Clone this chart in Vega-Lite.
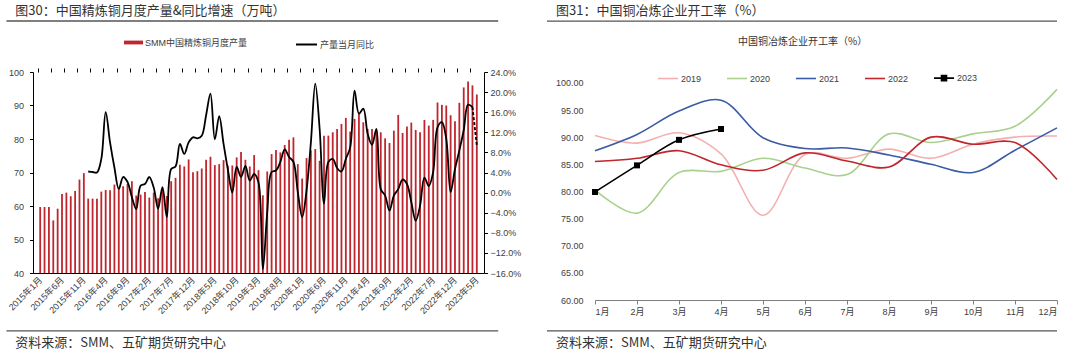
{
  "$schema": "https://vega.github.io/schema/vega-lite/v6.json",
  "background": "white",
  "padding": {"left": 5, "top": 4, "right": 0, "bottom": 0},
  "spacing": 25,
  "config": {
    "view": {"stroke": null},
    "font": "Liberation Sans, Noto Sans CJK SC",
    "axis": {"grid": false, "labelOverlap": false, "labelFont": "Liberation Sans, Noto Sans CJK SC", "labelFontSize": 9, "labelColor": "#404040"},
    "legend": {"labelFont": "Liberation Sans, Noto Sans CJK SC", "labelFontSize": 9, "labelColor": "#404040"}
  },
  "hconcat": [
    {
      "width": 451,
      "height": 201,
      "data": {"values": [
        {"i":0,"p":59.7},{"i":1,"p":59.7},{"i":2,"p":59.7},{"i":3,"p":55.7},{"i":4,"p":59.2},{"i":5,"p":63.6},{"i":6,"p":64.0},{"i":7,"p":62.9},{"i":8,"p":64.5},{"i":9,"p":67.9},{"i":10,"p":69.8},
        {"i":11,"p":62.2,"y":4.2},{"i":12,"p":62.2,"y":4.1},{"i":13,"p":62.2,"y":4.0},{"i":14,"p":64.3,"y":6.7},{"i":15,"p":64.8,"y":16.0},{"i":16,"p":64.7,"y":10.0},{"i":17,"p":66.4,"y":5.0},{"i":18,"p":64.9,"y":0.7},{"i":19,"p":65.9,"y":3.1},{"i":20,"p":66.6,"y":2.1},
        {"i":21,"p":67.4,"y":-0.9},{"i":22,"p":63.1,"y":-3.3},{"i":23,"p":63.4,"y":1.4},{"i":24,"p":64.2,"y":1.7},{"i":25,"p":62.5,"y":3.1},{"i":26,"p":64.0,"y":1.0},{"i":27,"p":62.3,"y":-3.2},{"i":28,"p":65.0,"y":1.1},{"i":29,"p":63.0,"y":-4.9},{"i":30,"p":67.4,"y":4.7},
        {"i":31,"p":68.4,"y":5.2},{"i":32,"p":72.3,"y":9.7},{"i":33,"p":71.8,"y":7.7},{"i":34,"p":73.9,"y":10.0},{"i":35,"p":70.1,"y":11.0},{"i":36,"p":70.4,"y":10.8},{"i":37,"p":71.2,"y":11.3},{"i":38,"p":73.8,"y":15.4},{"i":39,"p":74.7,"y":19.7},{"i":40,"p":72.2,"y":10.6},
        {"i":41,"p":72.5,"y":15.2},{"i":42,"p":73.7,"y":9.7},{"i":43,"p":72.0,"y":4.5},{"i":44,"p":72.1,"y":0.0},{"i":45,"p":74.5,"y":5.1},{"i":46,"p":76.1,"y":3.1},{"i":47,"p":73.8,"y":5.3},{"i":48,"p":71.8,"y":2.4},{"i":49,"p":75.2,"y":3.7},{"i":50,"p":70.7,"y":2.0},
        {"i":51,"p":63.2,"y":-15.2},{"i":52,"p":70.3,"y":-3.9},{"i":53,"p":75.5,"y":4.1},{"i":54,"p":76.7,"y":4.4},{"i":55,"p":76.0,"y":6.1},{"i":56,"p":78.2,"y":8.6},{"i":57,"p":79.8,"y":7.1},{"i":58,"p":80.5,"y":6.1},{"i":59,"p":72.5,"y":0.1},{"i":60,"p":68.2,"y":-4.9},
        {"i":61,"p":74.3,"y":0.4},{"i":62,"p":76.6,"y":10.0},{"i":63,"p":77.0,"y":21.7},{"i":64,"p":73.5,"y":12.7},{"i":65,"p":81.0,"y":-2.2},{"i":66,"p":81.0,"y":6.1},{"i":67,"p":82.0,"y":6.7},{"i":68,"p":83.0,"y":4.9},{"i":69,"p":84.5,"y":4.2},{"i":70,"p":86.3,"y":6.7},
        {"i":71,"p":82.2,"y":9.0},{"i":72,"p":86.0,"y":20.3},{"i":73,"p":87.5,"y":15.7},{"i":74,"p":85.0,"y":16.7},{"i":75,"p":83.0,"y":11.7},{"i":76,"p":83.0,"y":9.5},{"i":77,"p":82.5,"y":12.7},{"i":78,"p":82.0,"y":0.7},{"i":79,"p":80.2,"y":-0.6},{"i":80,"p":78.8,"y":-3.6},
        {"i":81,"p":82.5,"y":-0.6},{"i":82,"p":87.2,"y":0.7},{"i":83,"p":81.8,"y":2.6},{"i":84,"p":83.7,"y":1.7},{"i":85,"p":84.9,"y":-1.9},{"i":86,"p":82.7,"y":-5.6},{"i":87,"p":82.0,"y":-2.6},{"i":88,"p":85.7,"y":3.0},{"i":89,"p":84.0,"y":1.3},{"i":90,"p":85.7,"y":4.1},
        {"i":91,"p":90.9,"y":13.0},{"i":92,"p":90.2,"y":14.0},{"i":93,"p":90.0,"y":10.7},{"i":94,"p":87.1,"y":0.1},{"i":95,"p":85.3,"y":4.7},{"i":96,"p":90.8,"y":8.4},{"i":97,"p":95.4,"y":12.4},{"i":98,"p":97.2,"y":17.5},{"i":99,"p":96.0,"y":17.0},{"i":100,"p":93.3,"y":9.4}
      ]},
      "layer": [
        {
          "layer": [
            {
              "mark": {"type": "bar", "width": 1.8},
              "encoding": {
                "x": {"field": "i", "type": "quantitative", "title": null,
                  "scale": {"domain": [-0.5, 100.5], "nice": false, "zero": false},
                  "axis": {"values": [0,5,10,15,20,25,30,35,40,45,50,55,60,65,70,75,80,85,90,95,100], "tickCount": 500,
                    "labelExpr": "(2015 + floor(datum.value / 12)) + '年' + (datum.value % 12 + 1) + '月'",
                    "labelAngle": -45, "labelAlign": "right", "labelBaseline": "middle", "labelPadding": 5,
                    "labelOverlap": false, "ticks": false, "domainColor": "#000000", "domainWidth": 1}},
                "y": {"field": "p", "type": "quantitative", "title": null,
                  "scale": {"domain": [40, 100], "nice": false, "zero": false},
                  "axis": {"values": [40,50,60,70,80,90,100], "tickCount": 500, "format": "d", "labelOverlap": false, "domainColor": "#000000", "tickColor": "#000000", "tickSize": 3.5, "labelPadding": 6}},
                "y2": {"datum": 40},
                "fill": {"datum": "SMM中国精炼铜月度产量", "type": "nominal", "scale": {"range": ["#C0262D"]},
                  "legend": {"orient": "none", "legendX": 91, "legendY": -39, "title": null, "direction": "horizontal",
                    "symbolType": "M-1,-0.2H1V0.2H-1Z", "symbolSize": 361, "symbolStrokeWidth": 0, "symbolOpacity": 1,
                    "labelOffset": 2, "padding": 0}}
              }
            },
            {
              "data": {"values": [{}]},
              "mark": {"type": "rule", "color": "#555555", "strokeWidth": 1.3},
              "encoding": {
                "x": {"datum": -7.73, "type": "quantitative", "title": null, "scale": {"domain": [-0.5, 100.5], "nice": false, "zero": false}},
                "x2": {"datum": 104.9},
                "y": {"datum": 115.22, "type": "quantitative", "title": null, "scale": {"domain": [40, 100], "nice": false, "zero": false}}
              }
            },
            {
              "data": {"values": [{}]},
              "mark": {"type": "rule", "color": "#555555", "strokeWidth": 1.3},
              "encoding": {
                "x": {"datum": -7.73, "type": "quantitative", "title": null, "scale": {"domain": [-0.5, 100.5], "nice": false, "zero": false}},
                "x2": {"datum": 104.9},
                "y": {"datum": 22.75, "type": "quantitative", "title": null, "scale": {"domain": [40, 100], "nice": false, "zero": false}}
              }
            },
            {
              "data": {"values": [{}]},
              "mark": {"type": "text", "text": "图30：中国精炼铜月度产量&同比增速（万吨）", "align": "left", "baseline": "middle", "font": "Noto Sans CJK SC", "fontSize": 13, "color": "#333333"},
              "encoding": {
                "x": {"datum": -5.72, "type": "quantitative", "title": null, "scale": {"domain": [-0.5, 100.5], "nice": false, "zero": false}},
                "y": {"datum": 118.27, "type": "quantitative", "title": null, "scale": {"domain": [40, 100], "nice": false, "zero": false}}
              }
            },
            {
              "data": {"values": [{}]},
              "mark": {"type": "text", "text": "资料来源：SMM、五矿期货研究中心", "align": "left", "baseline": "middle", "font": "Noto Sans CJK SC", "fontSize": 13, "color": "#333333"},
              "encoding": {
                "x": {"datum": -5.72, "type": "quantitative", "title": null, "scale": {"domain": [-0.5, 100.5], "nice": false, "zero": false}},
                "y": {"datum": 19.16, "type": "quantitative", "title": null, "scale": {"domain": [40, 100], "nice": false, "zero": false}}
              }
            }
          ]
        },
        {
          "layer": [
            {
              "transform": [{"filter": "isValid(datum.y) && datum.i <= 99"}],
              "mark": {"type": "line", "interpolate": "catmull-rom", "strokeWidth": 1.8},
              "encoding": {
                "x": {"field": "i", "type": "quantitative", "title": null,
                  "scale": {"domain": [-0.5, 100.5], "nice": false, "zero": false},
                  "axis": {"values": [-0.5,2.5,5.5,8.5,11.5,14.5,17.5,20.5,23.5,26.5,29.5,32.5,35.5,38.5,41.5,44.5,47.5,50.5,53.5,56.5,59.5,62.5,65.5,68.5,71.5,74.5,77.5,80.5,83.5,86.5,89.5,92.5,95.5,98.5], "tickCount": 500,
                    "labels": false, "domain": false, "ticks": true, "tickSize": 4, "tickColor": "#000000"}},
                "y": {"field": "y", "type": "quantitative", "title": null,
                  "scale": {"domain": [-16, 24], "nice": false, "zero": false},
                  "axis": {"orient": "right", "values": [-16,-12,-8,-4,0,4,8,12,16,20,24], "tickCount": 500, "labelOverlap": false,
                    "labelExpr": "format(datum.value, '.1f') + '%'", "domainColor": "#000000", "tickColor": "#000000", "tickSize": 3.5, "labelPadding": 2.5}},
                "stroke": {"datum": "产量当月同比", "type": "nominal", "scale": {"range": ["#000000"]},
                  "legend": {"orient": "none", "legendX": 262, "legendY": -39, "title": null, "direction": "horizontal",
                    "symbolType": "stroke", "symbolSize": 441, "symbolStrokeWidth": 2, "labelOffset": 2, "padding": 0}}
              }
            },
            {
              "transform": [{"filter": "datum.i >= 99"}],
              "mark": {"type": "line", "color": "#000000", "strokeDash": [3, 2], "strokeWidth": 1.8},
              "encoding": {
                "x": {"field": "i", "type": "quantitative", "title": null, "scale": {"domain": [-0.5, 100.5], "nice": false, "zero": false}},
                "y": {"field": "y", "type": "quantitative", "title": null, "scale": {"domain": [-16, 24], "nice": false, "zero": false}}
              }
            }
          ]
        }
      ],
      "resolve": {"scale": {"y": "independent"}, "axis": {"x": "independent", "y": "independent"}}
    },
    {
      "width": 462,
      "height": 228,
      "data": {"values": [
        {"yr":"2019","m":1,"v":90.3},{"yr":"2019","m":2,"v":88.9},{"yr":"2019","m":3,"v":90.8},{"yr":"2019","m":4,"v":86.9},{"yr":"2019","m":5,"v":75.6},{"yr":"2019","m":6,"v":86.8},{"yr":"2019","m":7,"v":86.1},{"yr":"2019","m":8,"v":87.8},{"yr":"2019","m":9,"v":86.1},{"yr":"2019","m":10,"v":88.7},{"yr":"2019","m":11,"v":90.0},{"yr":"2019","m":12,"v":90.2},
        {"yr":"2020","m":1,"v":80.3},{"yr":"2020","m":2,"v":76.0},{"yr":"2020","m":3,"v":83.5},{"yr":"2020","m":4,"v":83.7},{"yr":"2020","m":5,"v":86.1},{"yr":"2020","m":6,"v":84.3},{"yr":"2020","m":7,"v":83.1},{"yr":"2020","m":8,"v":90.6},{"yr":"2020","m":9,"v":89.0},{"yr":"2020","m":10,"v":90.6},{"yr":"2020","m":11,"v":92.0},{"yr":"2020","m":12,"v":98.8},
        {"yr":"2021","m":1,"v":87.5},{"yr":"2021","m":2,"v":90.5},{"yr":"2021","m":3,"v":94.8},{"yr":"2021","m":4,"v":96.8},{"yr":"2021","m":5,"v":89.9},{"yr":"2021","m":6,"v":87.9},{"yr":"2021","m":7,"v":88.0},{"yr":"2021","m":8,"v":86.7},{"yr":"2021","m":9,"v":85.0},{"yr":"2021","m":10,"v":83.5},{"yr":"2021","m":11,"v":87.6},{"yr":"2021","m":12,"v":91.7},
        {"yr":"2022","m":1,"v":85.5},{"yr":"2022","m":2,"v":86.1},{"yr":"2022","m":3,"v":87.5},{"yr":"2022","m":4,"v":84.9},{"yr":"2022","m":5,"v":83.9},{"yr":"2022","m":6,"v":87.1},{"yr":"2022","m":7,"v":85.6},{"yr":"2022","m":8,"v":84.5},{"yr":"2022","m":9,"v":90.0},{"yr":"2022","m":10,"v":88.7},{"yr":"2022","m":11,"v":89.0},{"yr":"2022","m":12,"v":82.2},
        {"yr":"2023","m":1,"v":79.9},{"yr":"2023","m":2,"v":84.8},{"yr":"2023","m":3,"v":89.5},{"yr":"2023","m":4,"v":91.5}
      ]},
      "layer": [
        {
          "mark": {"type": "line", "interpolate": "catmull-rom", "strokeWidth": 1.6},
          "encoding": {
            "x": {"field": "m", "type": "quantitative", "title": null,
              "scale": {"domain": [1, 12], "nice": false, "zero": false},
              "axis": {"values": [1,2,3,4,5,6,7,8,9,10,11,12], "tickCount": 500, "labelExpr": "datum.value + '月'", "labelAngle": 0, "labelOverlap": false,
                "domainColor": "#808080", "tickColor": "#808080", "tickSize": 4, "labelPadding": 3}},
            "y": {"field": "v", "type": "quantitative", "title": null,
              "scale": {"domain": [60, 102], "nice": false, "zero": false},
              "axis": {"values": [60,65,70,75,80,85,90,95,100], "tickCount": 500, "format": ".2f", "labelOverlap": false, "domain": false, "ticks": false, "labelPadding": 12}},
            "color": {"field": "yr", "type": "nominal",
              "scale": {"domain": ["2019","2020","2021","2022","2023"], "range": ["#F4B0B0","#A9D18E","#3A5BA5","#C0262D","#000000"]},
              "legend": {"orient": "none", "legendX": 624, "legendY": -5, "title": null, "direction": "horizontal",
                "symbolType": "stroke", "symbolSize": 400, "symbolStrokeWidth": 1.6, "labelOffset": 2, "columnPadding": 21, "padding": 0,
                "encode": {"symbols": {"update": {
                  "shape": {"signal": "datum.value === '2023' ? 'M-1,0H1M-0.25,-0.25H0.25V0.25H-0.25Z' : 'stroke'"},
                  "fill": {"signal": "datum.value === '2023' ? '#000000' : 'transparent'"}}}}}}
          }
        },
        {
          "transform": [{"filter": "datum.yr === '2023'"}],
          "mark": {"type": "point", "shape": "square", "filled": true, "color": "#000000", "size": 36, "opacity": 1},
          "encoding": {
            "x": {"field": "m", "type": "quantitative", "title": null, "scale": {"domain": [1, 12], "nice": false, "zero": false}},
            "y": {"field": "v", "type": "quantitative", "title": null, "scale": {"domain": [60, 102], "nice": false, "zero": false}}
          }
        },
        {
          "data": {"values": [{}]},
          "mark": {"type": "rule", "color": "#555555", "strokeWidth": 1.3},
          "encoding": {
            "x": {"datum": -0.143, "type": "quantitative", "title": null, "scale": {"domain": [1, 12], "nice": false, "zero": false}},
            "x2": {"datum": 12.0},
            "y": {"datum": 111.39, "type": "quantitative", "title": null, "scale": {"domain": [60, 102], "nice": false, "zero": false}}
          }
        },
        {
          "data": {"values": [{}]},
          "mark": {"type": "rule", "color": "#555555", "strokeWidth": 1.3},
          "encoding": {
            "x": {"datum": -0.143, "type": "quantitative", "title": null, "scale": {"domain": [1, 12], "nice": false, "zero": false}},
            "x2": {"datum": 12.0},
            "y": {"datum": 54.33, "type": "quantitative", "title": null, "scale": {"domain": [60, 102], "nice": false, "zero": false}}
          }
        },
        {
          "data": {"values": [{}]},
          "mark": {"type": "text", "text": "图31：中国铜冶炼企业开工率（%）", "align": "left", "baseline": "middle", "font": "Noto Sans CJK SC", "fontSize": 13, "color": "#333333"},
          "encoding": {
            "x": {"datum": 0.071, "type": "quantitative", "title": null, "scale": {"domain": [1, 12], "nice": false, "zero": false}},
            "y": {"datum": 113.27, "type": "quantitative", "title": null, "scale": {"domain": [60, 102], "nice": false, "zero": false}}
          }
        },
        {
          "data": {"values": [{}]},
          "mark": {"type": "text", "text": "中国铜冶炼企业开工率（%）", "align": "center", "baseline": "middle", "font": "Noto Sans CJK SC", "fontSize": 10, "color": "#333333"},
          "encoding": {
            "x": {"datum": 5.945, "type": "quantitative", "title": null, "scale": {"domain": [1, 12], "nice": false, "zero": false}},
            "y": {"datum": 107.53, "type": "quantitative", "title": null, "scale": {"domain": [60, 102], "nice": false, "zero": false}}
          }
        },
        {
          "data": {"values": [{}]},
          "mark": {"type": "text", "text": "资料来源：SMM、五矿期货研究中心", "align": "left", "baseline": "middle", "font": "Noto Sans CJK SC", "fontSize": 13, "color": "#333333"},
          "encoding": {
            "x": {"datum": 0.071, "type": "quantitative", "title": null, "scale": {"domain": [1, 12], "nice": false, "zero": false}},
            "y": {"datum": 52.12, "type": "quantitative", "title": null, "scale": {"domain": [60, 102], "nice": false, "zero": false}}
          }
        }
      ]
    }
  ]
}
